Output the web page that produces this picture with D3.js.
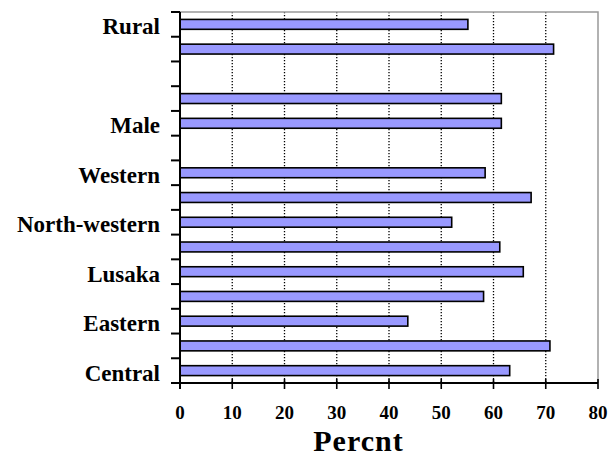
<!DOCTYPE html>
<html>
<head>
<meta charset="utf-8">
<script src="https://cdn.jsdelivr.net/npm/d3@7"></script>
<style>
  html, body { margin: 0; padding: 0; background: #fff; }
  svg { display: block; }
  text { font-family: "Liberation Serif", "Times New Roman", serif; font-weight: bold; fill: #000; }
</style>
</head>
<body>
<svg id="chart" width="609" height="457"></svg>
<script>
// Categories listed from top to bottom; empty strings are spacer rows
const categories = ["Rural", "Urban", "", "Female", "Male", " ", "Western", "Southern",
  "North-western", "Northern", "Lusaka", "Luapula", "Eastern", "Copperbelt", "Central"];
// Percent for each category (null = spacer row with no bar)
const values = [55.1, 71.5, null, 61.5, 61.5, null, 58.4, 67.2,
  52.0, 61.2, 65.7, 58.1, 43.6, 70.8, 63.1];
const xTicks = [0, 10, 20, 30, 40, 50, 60, 70, 80];
const xTitle = "Percnt";

const svg = d3.select("#chart");
const plotLeft = 180, plotRight = 598, plotTop = 12, plotBottom = 383;

const x = d3.scaleLinear().domain([0, 80]).range([plotLeft, plotRight]);
const y = d3.scaleBand()
  .domain(d3.range(categories.length))
  .range([plotTop, plotBottom])
  .paddingInner(0.6)
  .paddingOuter(0.3);
const step = y.step();
const offset = (step - y.bandwidth()) / 2;

// Dotted vertical gridlines
svg.append("g")
  .selectAll("line")
  .data(xTicks.filter(t => t > 0 && t < 80))
  .join("line")
  .attr("x1", d => x(d)).attr("x2", d => x(d))
  .attr("y1", plotTop).attr("y2", plotBottom)
  .attr("stroke", "#000")
  .attr("stroke-width", 1.3)
  .attr("stroke-dasharray", "1.3,1.7");

// Grey plot-area frame (top and right)
svg.append("path")
  .attr("d", `M${plotLeft},${plotTop}H${plotRight}V${plotBottom}`)
  .attr("fill", "none")
  .attr("stroke", "#999")
  .attr("stroke-width", 1.5);

// Bars
svg.append("g")
  .selectAll("rect")
  .data(values.map((v, i) => ({ v, i })).filter(d => d.v != null))
  .join("rect")
  .attr("x", x(0))
  .attr("y", d => y(d.i))
  .attr("width", d => x(d.v) - x(0))
  .attr("height", y.bandwidth())
  .attr("fill", "#9999ff")
  .attr("stroke", "#000")
  .attr("stroke-width", 1.6);

// Y axis: line, tick marks at row boundaries, labels on every other row
const yAxis = svg.append("g");
yAxis.append("line")
  .attr("x1", plotLeft).attr("x2", plotLeft)
  .attr("y1", plotTop).attr("y2", plotBottom + 6)
  .attr("stroke", "#000").attr("stroke-width", 2);
yAxis.selectAll("line.tick")
  .data(d3.range(categories.length + 1))
  .join("line")
  .attr("class", "tick")
  .attr("x1", plotLeft - 9).attr("x2", plotLeft)
  .attr("y1", i => i < categories.length ? y(i) - offset : plotBottom)
  .attr("y2", i => i < categories.length ? y(i) - offset : plotBottom)
  .attr("stroke", "#000").attr("stroke-width", 2);
yAxis.selectAll("text")
  .data(categories.map((c, i) => ({ c, i })).filter(d => d.i % 2 === 0))
  .join("text")
  .attr("x", 160)
  .attr("y", d => y(d.i) + y.bandwidth() / 2 + 10)
  .attr("text-anchor", "end")
  .attr("font-size", 23)
  .text(d => d.c);

// X axis
const xAxis = svg.append("g");
xAxis.append("line")
  .attr("x1", plotLeft - 9).attr("x2", plotRight)
  .attr("y1", plotBottom).attr("y2", plotBottom)
  .attr("stroke", "#000").attr("stroke-width", 2);
xAxis.selectAll("line.tick")
  .data(xTicks)
  .join("line")
  .attr("class", "tick")
  .attr("x1", d => x(d)).attr("x2", d => x(d))
  .attr("y1", plotBottom - 4).attr("y2", plotBottom + 6)
  .attr("stroke", "#000").attr("stroke-width", 1.6);
xAxis.selectAll("text")
  .data(xTicks)
  .join("text")
  .attr("x", d => x(d))
  .attr("y", 419)
  .attr("text-anchor", "middle")
  .attr("font-size", 19)
  .text(d => d);

svg.append("text")
  .attr("x", 358.5)
  .attr("y", 450.5)
  .attr("text-anchor", "middle")
  .attr("font-size", 30)
  .attr("letter-spacing", 1)
  .text(xTitle);
</script>
</body>
</html>
